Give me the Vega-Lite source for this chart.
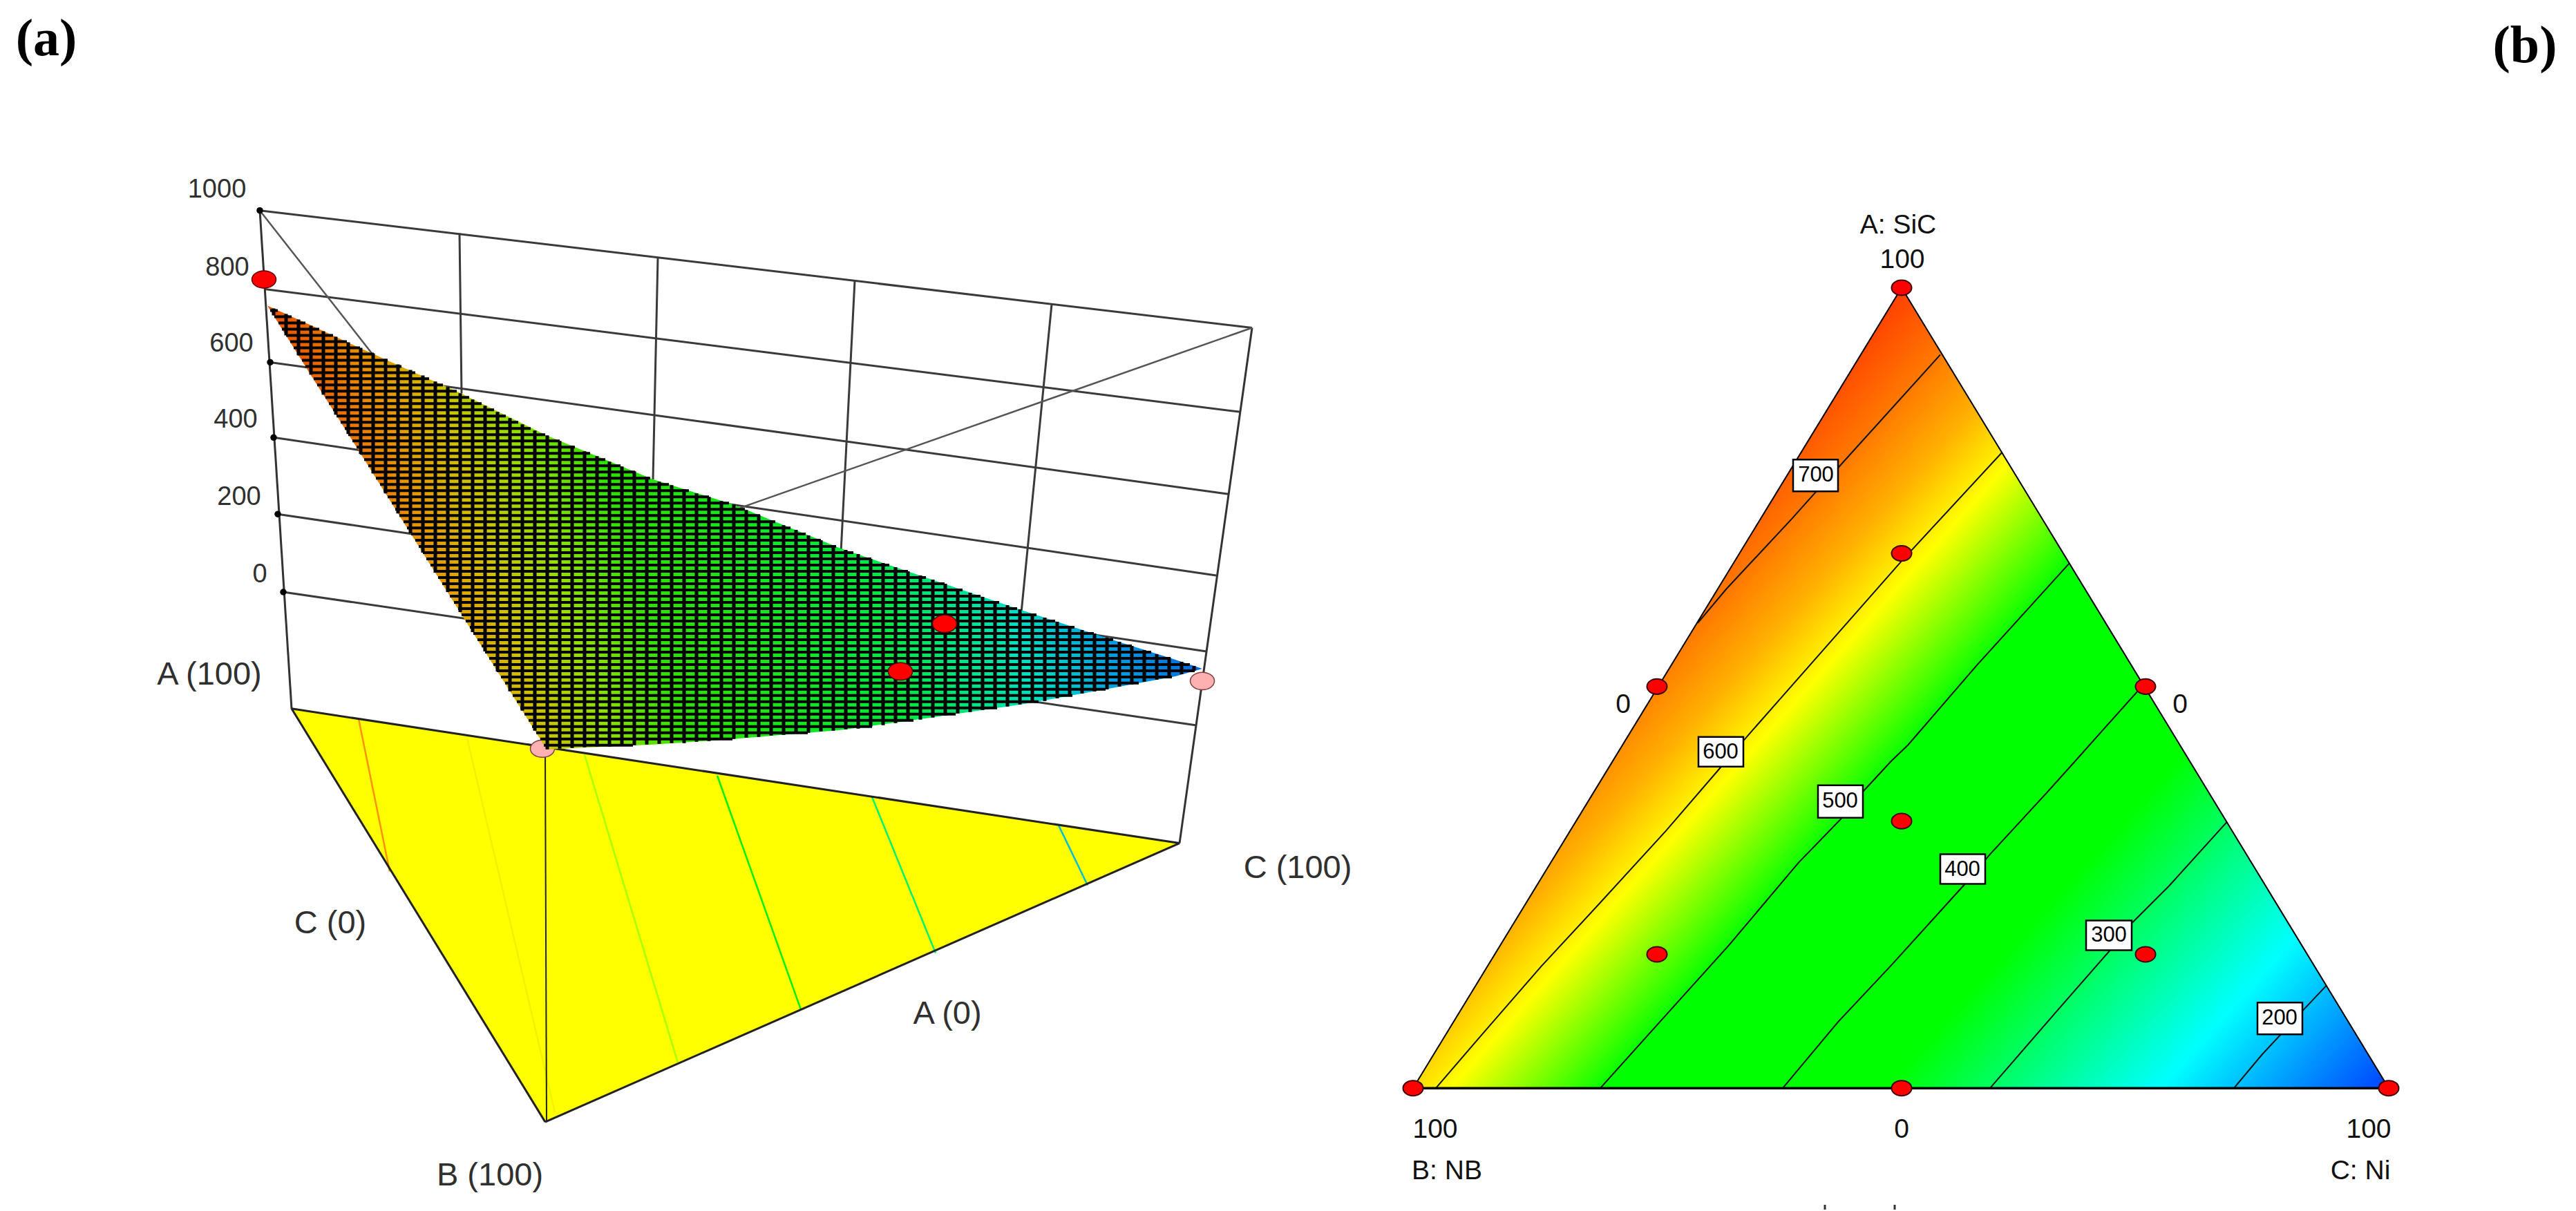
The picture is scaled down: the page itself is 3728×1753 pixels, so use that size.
{"$schema":"https://vega.github.io/schema/vega-lite/v6.json","width":3728,"height":1753,"padding":0,"autosize":{"type":"fit","contains":"padding"},"background":"white","config":{"view":{"stroke":null}},
"datasets":{
"grid":[{"x":376,"y":305,"x2":1812,"y2":475},{"x":383,"y":419,"x2":1795,"y2":597},{"x":391,"y":525,"x2":1778,"y2":716},{"x":396,"y":634,"x2":1760,"y2":834},{"x":402,"y":745,"x2":1746,"y2":944},{"x":410,"y":858,"x2":1730,"y2":1051},{"x":665,"y":338,"x2":668,"y2":570},{"x":952,"y":374,"x2":945,"y2":695},{"x":1237,"y":407,"x2":1217,"y2":800},{"x":1522,"y":441,"x2":1478,"y2":888}],
"axes":[{"x":376,"y":305,"x2":422,"y2":1027},{"x":1812,"y":475,"x2":1707,"y2":1222},{"x":2641,"y":1746,"x2":2641,"y2":1753},{"x":2742,"y":1746,"x2":2742,"y2":1753}],
"diagonals":[{"x":376,"y":305,"x2":560,"y2":540},{"x":1812,"y":475,"x2":1060,"y2":740}],
"base":[{"x":422,"y":1027,"y2":1027},{"x":789,"y":1083,"y2":1626},{"x":1707,"y":1222,"y2":1222}],
"baseEdges":[{"x":422,"y":1027,"x2":1707,"y2":1222},{"x":422,"y":1027,"x2":789,"y2":1626},{"x":789,"y":1626,"x2":1707,"y2":1222}],
"frontEdge":[{"x":789,"y":1086,"x2":791,"y2":1626}],
"baseContours":[{"x":519,"y":1042,"x2":564,"y2":1263,"level":"700"},{"x":676,"y":1070,"x2":803,"y2":1612,"level":"600"},{"x":846,"y":1094,"x2":981,"y2":1540,"level":"500"},{"x":1038,"y":1124,"x2":1159,"y2":1463,"level":"400"},{"x":1262,"y":1155,"x2":1354,"y2":1381,"level":"300"},{"x":1532,"y":1196,"x2":1574,"y2":1283,"level":"200"}],
"surface":[{"x":387,"y":443,"y2":443},{"x":447,"y":470,"y2":539},{"x":516,"y":502,"y2":648},{"x":596,"y":538,"y2":776},{"x":665,"y":569,"y2":886},{"x":791,"y":631,"y2":1086},{"x":946,"y":695,"y2":1079},{"x":1061,"y":731,"y2":1071},{"x":1217,"y":795,"y2":1058},{"x":1340,"y":837,"y2":1041},{"x":1478,"y":884,"y2":1021},{"x":1600,"y":924,"y2":999},{"x":1701,"y":956,"y2":980},{"x":1740,"y":969,"y2":969}],
"meshH":[{"y":450,"x":391,"x2":402},{"y":459,"x":397,"x2":422},{"y":468,"x":403,"x2":442},{"y":477,"x":408,"x2":462},{"y":486,"x":414,"x2":482},{"y":495,"x":420,"x2":502},{"y":504,"x":425,"x2":521},{"y":513,"x":431,"x2":541},{"y":522,"x":437,"x2":561},{"y":531,"x":442,"x2":581},{"y":540,"x":448,"x2":601},{"y":549,"x":454,"x2":621},{"y":558,"x":459,"x2":641},{"y":567,"x":465,"x2":661},{"y":576,"x":471,"x2":679},{"y":585,"x":476,"x2":697},{"y":594,"x":482,"x2":715},{"y":603,"x":487,"x2":732},{"y":612,"x":493,"x2":750},{"y":621,"x":499,"x2":768},{"y":630,"x":504,"x2":789},{"y":639,"x":510,"x2":810},{"y":648,"x":516,"x2":832},{"y":657,"x":521,"x2":854},{"y":666,"x":527,"x2":876},{"y":675,"x":533,"x2":898},{"y":684,"x":538,"x2":919},{"y":693,"x":544,"x2":941},{"y":702,"x":550,"x2":968},{"y":711,"x":555,"x2":997},{"y":720,"x":561,"x2":1026},{"y":729,"x":567,"x2":1055},{"y":738,"x":572,"x2":1078},{"y":747,"x":578,"x2":1100},{"y":756,"x":584,"x2":1122},{"y":765,"x":589,"x2":1144},{"y":774,"x":595,"x2":1166},{"y":783,"x":601,"x2":1188},{"y":792,"x":606,"x2":1210},{"y":801,"x":612,"x2":1235},{"y":810,"x":617,"x2":1261},{"y":819,"x":623,"x2":1287},{"y":828,"x":629,"x2":1314},{"y":837,"x":634,"x2":1340},{"y":846,"x":640,"x2":1367},{"y":855,"x":646,"x2":1393},{"y":864,"x":651,"x2":1419},{"y":873,"x":657,"x2":1446},{"y":882,"x":663,"x2":1472},{"y":891,"x":668,"x2":1500},{"y":900,"x":674,"x2":1527},{"y":909,"x":680,"x2":1555},{"y":918,"x":685,"x2":1583},{"y":927,"x":691,"x2":1611},{"y":936,"x":697,"x2":1638},{"y":945,"x":702,"x2":1666},{"y":954,"x":708,"x2":1694},{"y":963,"x":714,"x2":1722},{"y":972,"x":719,"x2":1729},{"y":981,"x":725,"x2":1696},{"y":990,"x":731,"x2":1648},{"y":999,"x":736,"x2":1600},{"y":1008,"x":742,"x2":1552},{"y":1017,"x":748,"x2":1503},{"y":1026,"x":753,"x2":1443},{"y":1035,"x":759,"x2":1383},{"y":1044,"x":765,"x2":1322},{"y":1053,"x":770,"x2":1262},{"y":1062,"x":776,"x2":1169},{"y":1071,"x":782,"x2":1060},{"y":1080,"x":787,"x2":916}],
"meshV":[{"x":396,"y":447,"y2":457},{"x":414,"y":455,"y2":486},{"x":432,"y":463,"y2":515},{"x":450,"y":472,"y2":543},{"x":468,"y":480,"y2":572},{"x":486,"y":488,"y2":601},{"x":504,"y":496,"y2":629},{"x":522,"y":504,"y2":658},{"x":540,"y":512,"y2":686},{"x":558,"y":520,"y2":715},{"x":576,"y":528,"y2":744},{"x":594,"y":536,"y2":773},{"x":612,"y":544,"y2":801},{"x":630,"y":553,"y2":830},{"x":648,"y":561,"y2":858},{"x":666,"y":570,"y2":887},{"x":684,"y":579,"y2":916},{"x":702,"y":588,"y2":944},{"x":720,"y":597,"y2":973},{"x":738,"y":606,"y2":1002},{"x":756,"y":615,"y2":1030},{"x":774,"y":624,"y2":1059},{"x":792,"y":631,"y2":1086},{"x":810,"y":639,"y2":1085},{"x":828,"y":646,"y2":1084},{"x":846,"y":654,"y2":1083},{"x":864,"y":661,"y2":1082},{"x":882,"y":669,"y2":1082},{"x":900,"y":676,"y2":1081},{"x":918,"y":683,"y2":1080},{"x":936,"y":691,"y2":1079},{"x":954,"y":698,"y2":1078},{"x":972,"y":703,"y2":1077},{"x":990,"y":709,"y2":1077},{"x":1008,"y":715,"y2":1075},{"x":1026,"y":720,"y2":1074},{"x":1044,"y":726,"y2":1072},{"x":1062,"y":731,"y2":1071},{"x":1080,"y":739,"y2":1069},{"x":1098,"y":746,"y2":1068},{"x":1116,"y":754,"y2":1066},{"x":1134,"y":761,"y2":1065},{"x":1152,"y":768,"y2":1063},{"x":1170,"y":776,"y2":1062},{"x":1188,"y":783,"y2":1060},{"x":1206,"y":790,"y2":1059},{"x":1224,"y":797,"y2":1057},{"x":1242,"y":803,"y2":1056},{"x":1260,"y":810,"y2":1053},{"x":1278,"y":816,"y2":1051},{"x":1296,"y":822,"y2":1048},{"x":1314,"y":828,"y2":1045},{"x":1332,"y":834,"y2":1043},{"x":1350,"y":840,"y2":1040},{"x":1368,"y":846,"y2":1037},{"x":1386,"y":853,"y2":1034},{"x":1404,"y":859,"y2":1032},{"x":1422,"y":865,"y2":1029},{"x":1440,"y":871,"y2":1026},{"x":1458,"y":877,"y2":1024},{"x":1476,"y":883,"y2":1021},{"x":1494,"y":889,"y2":1018},{"x":1512,"y":895,"y2":1016},{"x":1530,"y":901,"y2":1012},{"x":1548,"y":907,"y2":1009},{"x":1566,"y":913,"y2":1005},{"x":1584,"y":918,"y2":1002},{"x":1602,"y":924,"y2":999},{"x":1620,"y":930,"y2":995},{"x":1638,"y":936,"y2":992},{"x":1656,"y":942,"y2":988},{"x":1674,"y":948,"y2":985},{"x":1692,"y":953,"y2":982},{"x":1710,"y":959,"y2":977},{"x":1728,"y":965,"y2":972}],
"ticks":[{"x":376,"y":305},{"x":391,"y":525},{"x":396,"y":634},{"x":402,"y":745},{"x":410,"y":858}],
"leftRed":[{"x":382,"y":405},{"x":1367,"y":904},{"x":1303,"y":973}],
"leftPink":[{"x":1740,"y":987},{"x":785,"y":1085}],
"leftLabels":[{"x":314,"y":275,"label":"1000"},{"x":329,"y":388,"label":"800"},{"x":335,"y":499,"label":"600"},{"x":341,"y":609,"label":"400"},{"x":346,"y":721,"label":"200"},{"x":376,"y":833,"label":"0"}],
"cornerLabels":[{"x":303,"y":978,"label":"A (100)"},{"x":1878,"y":1258,"label":"C (100)"},{"x":478,"y":1339,"label":"C (0)"},{"x":1371,"y":1470,"label":"A (0)"},{"x":709,"y":1704,"label":"B (100)"}],
"tri":[{"x":2045,"y":1577,"y2":1577},{"x":2752,"y":417,"y2":1577},{"x":3457,"y":1577,"y2":1577}],
"triEdges":[{"x":2752,"y":417,"x2":2045,"y2":1577},{"x":2752,"y":417,"x2":3457,"y2":1577}],
"triBase":[{"x":2045,"y":1577,"x2":3457,"y2":1577}],
"contours":[{"level":"700","x":2457,"y":903},{"level":"700","x":2498,"y":854},{"level":"700","x":2593,"y":752},{"level":"700","x":2627,"y":714},{"level":"700","x":2660,"y":678},{"level":"700","x":2808,"y":514},
{"level":"600","x":2078,"y":1577},{"level":"600","x":2144,"y":1500},{"level":"600","x":2230,"y":1401},{"level":"600","x":2316,"y":1308},{"level":"600","x":2411,"y":1204},{"level":"600","x":2491,"y":1111},{"level":"600","x":2526,"y":1070},{"level":"600","x":2752,"y":813},{"level":"600","x":2897,"y":656},
{"level":"500","x":2316,"y":1577},{"level":"500","x":2402,"y":1481},{"level":"500","x":2502,"y":1370},{"level":"500","x":2603,"y":1250},{"level":"500","x":2664,"y":1187},{"level":"500","x":2699,"y":1144},{"level":"500","x":2737,"y":1103},{"level":"500","x":2761,"y":1080},{"level":"500","x":2861,"y":964},{"level":"500","x":2995,"y":816},
{"level":"400","x":2580,"y":1577},{"level":"400","x":2660,"y":1481},{"level":"400","x":2737,"y":1399},{"level":"400","x":2842,"y":1283},{"level":"400","x":2880,"y":1238},{"level":"400","x":2962,"y":1149},{"level":"400","x":3005,"y":1101},{"level":"400","x":3096,"y":999},
{"level":"300","x":2880,"y":1577},{"level":"300","x":2976,"y":1466},{"level":"300","x":3053,"y":1378},{"level":"300","x":3086,"y":1337},{"level":"300","x":3139,"y":1284},{"level":"300","x":3223,"y":1191},
{"level":"200","x":3233,"y":1577},{"level":"200","x":3273,"y":1529},{"level":"200","x":3300,"y":1500},{"level":"200","x":3333,"y":1464},{"level":"200","x":3367,"y":1428}],
"contourBoxes":[{"x":2595,"x2":2660,"y":666,"y2":712,"cx":2628,"cy":689,"label":"700"},{"x":2458,"x2":2523,"y":1068,"y2":1111,"cx":2490,"cy":1090,"label":"600"},{"x":2631,"x2":2696,"y":1138,"y2":1185,"cx":2663,"cy":1161,"label":"500"},{"x":2808,"x2":2873,"y":1238,"y2":1281,"cx":2840,"cy":1260,"label":"400"},{"x":3019,"x2":3085,"y":1334,"y2":1377,"cx":3052,"cy":1356,"label":"300"},{"x":3267,"x2":3332,"y":1453,"y2":1499,"cx":3299,"cy":1476,"label":"200"}],
"rightRed":[{"x":2752,"y":417},{"x":2752,"y":802},{"x":2398,"y":995},{"x":3105,"y":995},{"x":2752,"y":1190},{"x":2398,"y":1383},{"x":3105,"y":1383},{"x":2045,"y":1577},{"x":2752,"y":1577},{"x":3457,"y":1577}],
"rightLabels":[{"x":2747,"y":326,"label":"A: SiC"},{"x":2753,"y":376,"label":"100"},{"x":2349,"y":1021,"label":"0"},{"x":3155,"y":1021,"label":"0"},{"x":2077,"y":1637,"label":"100"},{"x":2752,"y":1637,"label":"0"},{"x":3428,"y":1637,"label":"100"},{"x":2094,"y":1697,"label":"B: NB"},{"x":3416,"y":1697,"label":"C: Ni"}],
"panelLabels":[{"x":67,"y":57,"label":"(a)"},{"x":3654,"y":67,"label":"(b)"}]
},
"data":{"name":"grid"},
"encoding":{"x":{"field":"x","type":"quantitative","scale":{"domain":[0,3728],"nice":false,"zero":false},"axis":null},"y":{"field":"y","type":"quantitative","scale":{"domain":[1753,0],"nice":false,"zero":false},"axis":null}},
"layer":[
{"data":{"name":"grid"},"mark":{"type":"rule","color":"#3a3a3a","strokeWidth":3},"encoding":{"x2":{"field":"x2"},"y2":{"field":"y2"}}},
{"data":{"name":"axes"},"mark":{"type":"rule","color":"#333333","strokeWidth":3},"encoding":{"x2":{"field":"x2"},"y2":{"field":"y2"}}},
{"data":{"name":"diagonals"},"mark":{"type":"rule","color":"#555555","strokeWidth":2.5},"encoding":{"x2":{"field":"x2"},"y2":{"field":"y2"}}},
{"data":{"name":"ticks"},"mark":{"type":"point","filled":true,"color":"black","size":90,"opacity":1}},
{"data":{"name":"base"},"mark":{"type":"area","color":"#ffff00"},"encoding":{"y2":{"field":"y2"}}},
{"data":{"name":"baseContours"},"mark":{"type":"rule","strokeWidth":2.5},"encoding":{"x2":{"field":"x2"},"y2":{"field":"y2"},"color":{"field":"level","type":"nominal","legend":null,"scale":{"domain":["700","600","500","400","300","200"],"range":["#ff9000","#f4f000","#a8ff00","#00f000","#00f070","#00c0d0"]}}}},
{"data":{"name":"baseEdges"},"mark":{"type":"rule","color":"#222222","strokeWidth":3},"encoding":{"x2":{"field":"x2"},"y2":{"field":"y2"}}},
{"data":{"name":"frontEdge"},"mark":{"type":"rule","color":"#222222","strokeWidth":2},"encoding":{"x2":{"field":"x2"},"y2":{"field":"y2"}}},
{"data":{"name":"leftPink"},"mark":{"type":"point","filled":true,"shape":"M -1 0 A 1 0.72 0 1 0 1 0 A 1 0.72 0 1 0 -1 0 Z","fill":"#ffb0b0","stroke":"#804040","strokeWidth":1.5,"size":1225,"opacity":1}},
{"data":{"name":"surface"},"mark":{"type":"area","color":{"gradient":"linear","x1":0,"y1":0.55,"x2":1,"y2":0.41,"stops":[{"offset":0,"color":"#e83000"},{"offset":0.1,"color":"#e86000"},{"offset":0.16,"color":"#e89000"},{"offset":0.23,"color":"#d0c000"},{"offset":0.3,"color":"#90e000"},{"offset":0.38,"color":"#30e000"},{"offset":0.62,"color":"#00e840"},{"offset":0.76,"color":"#00e0c0"},{"offset":0.85,"color":"#00a0e0"},{"offset":0.93,"color":"#0070e0"},{"offset":1,"color":"#0040e0"}]}},"encoding":{"y2":{"field":"y2"}}},
{"data":{"name":"meshH"},"mark":{"type":"rule","color":"black","strokeWidth":4},"encoding":{"x2":{"field":"x2"}}},
{"data":{"name":"meshV"},"mark":{"type":"rule","color":"black","strokeWidth":5},"encoding":{"y2":{"field":"y2"}}},
{"data":{"name":"leftRed"},"mark":{"type":"point","filled":true,"shape":"M -1 0 A 1 0.72 0 1 0 1 0 A 1 0.72 0 1 0 -1 0 Z","fill":"#ff0000","stroke":"#600000","strokeWidth":1.5,"size":1225,"opacity":1}},
{"data":{"name":"leftLabels"},"mark":{"type":"text","font":"Liberation Sans","fontSize":38,"color":"#303030","align":"center","baseline":"middle"},"encoding":{"text":{"field":"label"}}},
{"data":{"name":"cornerLabels"},"mark":{"type":"text","font":"Liberation Sans","fontSize":47,"color":"#303030","align":"center","baseline":"middle"},"encoding":{"text":{"field":"label"}}},
{"data":{"name":"tri"},"mark":{"type":"area","color":{"gradient":"linear","x1":0.5,"y1":0,"x2":1.302,"y2":0.588,"stops":[{"offset":0,"color":"#ff4000"},{"offset":0.08,"color":"#ff7800"},{"offset":0.15,"color":"#ffb000"},{"offset":0.22,"color":"#ffff00"},{"offset":0.35,"color":"#00ff00"},{"offset":0.58,"color":"#00ff00"},{"offset":0.81,"color":"#00ffff"},{"offset":1,"color":"#0040ff"}]}},"encoding":{"y2":{"field":"y2"}}},
{"data":{"name":"contours"},"mark":{"type":"line","color":"#111111","strokeWidth":2},"encoding":{"detail":{"field":"level"}}},
{"data":{"name":"triEdges"},"mark":{"type":"rule","color":"black","strokeWidth":2},"encoding":{"x2":{"field":"x2"},"y2":{"field":"y2"}}},
{"data":{"name":"triBase"},"mark":{"type":"rule","color":"black","strokeWidth":3.5},"encoding":{"x2":{"field":"x2"},"y2":{"field":"y2"}}},
{"data":{"name":"contourBoxes"},"mark":{"type":"rect","fill":"white","stroke":"black","strokeWidth":2.5},"encoding":{"x2":{"field":"x2"},"y2":{"field":"y2"}}},
{"data":{"name":"contourBoxes"},"mark":{"type":"text","font":"Liberation Sans","fontSize":31,"color":"black","align":"center","baseline":"middle"},"encoding":{"x":{"field":"cx","type":"quantitative"},"y":{"field":"cy","type":"quantitative"},"text":{"field":"label"}}},
{"data":{"name":"rightRed"},"mark":{"type":"point","filled":true,"shape":"M -1 0 A 1 0.76 0 1 0 1 0 A 1 0.76 0 1 0 -1 0 Z","fill":"#ff0000","stroke":"#400000","strokeWidth":2,"size":841,"opacity":1}},
{"data":{"name":"rightLabels"},"mark":{"type":"text","font":"Liberation Sans","fontSize":39,"color":"#111111","align":"center","baseline":"middle"},"encoding":{"text":{"field":"label"}}},
{"data":{"name":"panelLabels"},"mark":{"type":"text","font":"Liberation Serif","fontSize":76,"fontWeight":"bold","color":"black","align":"center","baseline":"middle"},"encoding":{"text":{"field":"label"}}}
]}
